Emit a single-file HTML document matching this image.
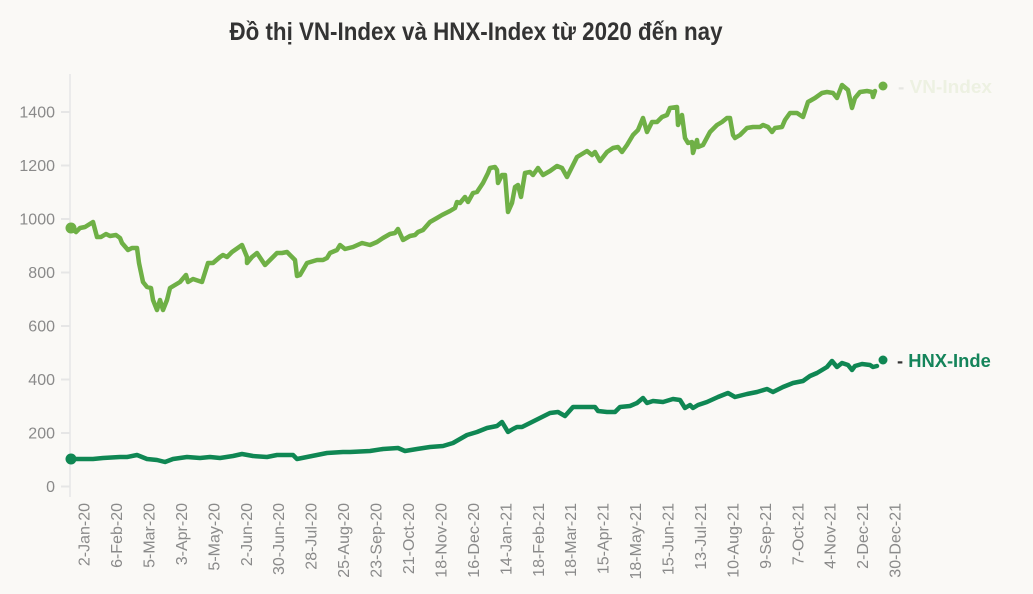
<!DOCTYPE html>
<html>
<head>
<meta charset="utf-8">
<style>
html,body{margin:0;padding:0;background:#faf9f6;}
svg{display:block;}
text{font-family:"Liberation Sans","DejaVu Sans",sans-serif;}
</style>
</head>
<body>
<svg width="1033" height="594" viewBox="0 0 1033 594" xmlns="http://www.w3.org/2000/svg">
<defs>
<clipPath id="cl"><rect x="0" y="0" width="991" height="594"/></clipPath>
</defs>
<rect width="1033" height="594" fill="#faf9f6"/>
<text x="476" y="40" text-anchor="middle" font-size="25" font-weight="bold" fill="#333" textLength="493" lengthAdjust="spacingAndGlyphs">Đồ thị VN-Index và HNX-Index từ 2020 đến nay</text>

<!-- y axis -->
<line x1="70" y1="74" x2="70" y2="497" stroke="#ebebeb" stroke-width="2"/>
<g stroke="#e6e6e6" stroke-width="2">
<line x1="61" x2="70" y1="486.5" y2="486.5"/>
<line x1="61" x2="70" y1="433" y2="433"/>
<line x1="61" x2="70" y1="379.5" y2="379.5"/>
<line x1="61" x2="70" y1="326" y2="326"/>
<line x1="61" x2="70" y1="272.5" y2="272.5"/>
<line x1="61" x2="70" y1="219" y2="219"/>
<line x1="61" x2="70" y1="165.5" y2="165.5"/>
<line x1="61" x2="70" y1="112" y2="112"/>
</g>
<g font-size="16" fill="#8a8a8a" text-anchor="end">
<text x="55" y="492">0</text>
<text x="55" y="438.5">200</text>
<text x="55" y="385">400</text>
<text x="55" y="331.5">600</text>
<text x="55" y="278">800</text>
<text x="55" y="224.5">1000</text>
<text x="55" y="171">1200</text>
<text x="55" y="117.5">1400</text>
</g>

<!-- x labels -->
<g font-size="16" fill="#8a8a8a" text-anchor="end">
<text transform="translate(84,503) rotate(-90)" dy="0.35em">2-Jan-20</text>
<text transform="translate(116.44,503) rotate(-90)" dy="0.35em">6-Feb-20</text>
<text transform="translate(148.88,503) rotate(-90)" dy="0.35em">5-Mar-20</text>
<text transform="translate(181.32,503) rotate(-90)" dy="0.35em">3-Apr-20</text>
<text transform="translate(213.76,503) rotate(-90)" dy="0.35em">5-May-20</text>
<text transform="translate(246.2,503) rotate(-90)" dy="0.35em">2-Jun-20</text>
<text transform="translate(278.64,503) rotate(-90)" dy="0.35em">30-Jun-20</text>
<text transform="translate(311.08,503) rotate(-90)" dy="0.35em">28-Jul-20</text>
<text transform="translate(343.52,503) rotate(-90)" dy="0.35em">25-Aug-20</text>
<text transform="translate(375.96,503) rotate(-90)" dy="0.35em">23-Sep-20</text>
<text transform="translate(408.4,503) rotate(-90)" dy="0.35em">21-Oct-20</text>
<text transform="translate(440.84,503) rotate(-90)" dy="0.35em">18-Nov-20</text>
<text transform="translate(473.28,503) rotate(-90)" dy="0.35em">16-Dec-20</text>
<text transform="translate(505.72,503) rotate(-90)" dy="0.35em">14-Jan-21</text>
<text transform="translate(538.16,503) rotate(-90)" dy="0.35em">18-Feb-21</text>
<text transform="translate(570.6,503) rotate(-90)" dy="0.35em">18-Mar-21</text>
<text transform="translate(603.04,503) rotate(-90)" dy="0.35em">15-Apr-21</text>
<text transform="translate(635.48,503) rotate(-90)" dy="0.35em">18-May-21</text>
<text transform="translate(667.92,503) rotate(-90)" dy="0.35em">15-Jun-21</text>
<text transform="translate(700.36,503) rotate(-90)" dy="0.35em">13-Jul-21</text>
<text transform="translate(732.8,503) rotate(-90)" dy="0.35em">10-Aug-21</text>
<text transform="translate(765.24,503) rotate(-90)" dy="0.35em">9-Sep-21</text>
<text transform="translate(797.68,503) rotate(-90)" dy="0.35em">7-Oct-21</text>
<text transform="translate(830.12,503) rotate(-90)" dy="0.35em">4-Nov-21</text>
<text transform="translate(862.56,503) rotate(-90)" dy="0.35em">2-Dec-21</text>
<text transform="translate(895,503) rotate(-90)" dy="0.35em">30-Dec-21</text>
</g>

<!-- VN-Index -->
<polyline fill="none" stroke="#6fb046" stroke-width="4.5" stroke-linejoin="round" stroke-linecap="round" points="71,228 76,232 80,228 85,227 93,222 97,237 101,237 106,234 110,236 116,235 120,238 122,243 128,250 132,248 137,248 139,263 143,282 147,287 151,288 153,300 157,310 160,300 163,310 167,300 170,288 175,285 180,282 186,275 188,282 193,279 202,282 208,263 213,263 220,257 223,255 227,257 232,252 242,245 247,257 247,263 252,257 257,253 265,265 270,260 277,253 282,253 287,252 292,257 295,260 297,276 300,275 307,263 317,260 323,260 327,258 330,253 337,250 340,245 345,249 353,247 362,243 370,245 377,242 383,238 390,234 395,233 398,229 403,240 410,236 415,235 418,232 423,230 430,222 437,218 442,215 450,211 455,208 457,202 460,203 465,197 468,202 473,193 477,192 483,183 488,173 490,168 495,167 497,170 498,183 502,175 505,175 508,212 512,203 515,187 518,185 521,197 525,173 530,172 533,175 538,168 543,175 550,171 557,166 562,168 567,177 572,167 577,157 582,154 587,151 592,155 595,152 600,161 607,152 613,148 618,147 622,152 627,145 633,135 638,130 643,118 647,132 652,122 657,122 662,117 667,115 670,108 677,107 678,125 682,115 685,138 688,143 692,142 693,153 697,140 698,147 703,145 710,132 717,125 722,122 727,118 730,118 733,135 735,138 740,135 747,128 753,127 760,127 763,125 768,127 772,132 775,128 782,127 785,120 790,113 797,113 803,117 808,102 815,98 822,93 827,92 833,93 837,98 842,85 848,90 852,108 855,98 860,92 867,91 872,92 873,97 875,91"/>
<circle cx="71" cy="228" r="5.5" fill="#6fb046"/>
<circle cx="883" cy="86" r="4.5" fill="#6fb046"/>

<!-- HNX-Index -->
<polyline fill="none" stroke="#0f8753" stroke-width="4.5" stroke-linejoin="round" stroke-linecap="round" points="71,459 93,459 103,458 120,457 127,457 137,455 147,459 157,460 165,462 173,459 187,457 200,458 210,457 220,458 233,456 242,454 253,456 267,457 277,455 293,455 297,459 307,457 327,453 343,452 350,452 370,451 383,449 398,448 405,451 417,449 430,447 443,446 453,443 460,439 467,435 477,432 487,428 497,426 502,422 508,432 513,429 517,427 522,427 530,423 540,418 550,413 558,412 565,416 573,407 583,407 595,407 598,411 607,412 615,412 620,407 630,406 637,403 643,398 647,403 653,401 663,402 673,399 680,400 685,408 690,405 693,408 698,405 707,402 718,397 728,393 735,397 747,394 757,392 767,389 773,392 783,387 793,383 803,381 810,376 817,373 822,370 827,367 832,361 837,367 842,363 848,365 852,370 855,366 862,364 870,365 873,367 877,366"/>
<circle cx="71" cy="459" r="5.5" fill="#0f8753"/>
<circle cx="883" cy="360" r="4.5" fill="#0f8753"/>

<!-- labels -->
<text x="898" y="93" font-size="18" font-weight="bold" textLength="94" lengthAdjust="spacingAndGlyphs"><tspan fill="#e6e6e2">- </tspan><tspan fill="#edf1e2">VN-Index</tspan></text>
<g clip-path="url(#cl)">
<text x="897" y="367" font-size="18" font-weight="bold" textLength="104" lengthAdjust="spacingAndGlyphs"><tspan fill="#333">- </tspan><tspan fill="#14845a">HNX-Index</tspan></text>
</g>
</svg>
</body>
</html>
